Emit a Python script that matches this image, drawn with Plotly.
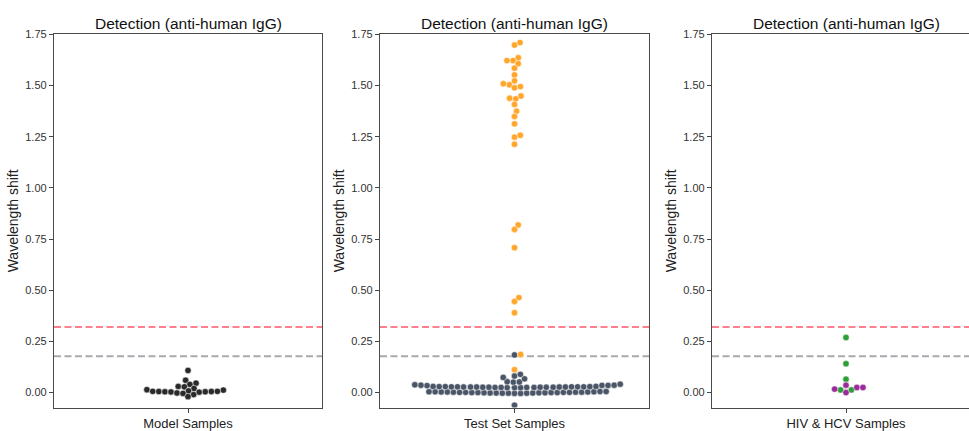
import numpy as np
import plotly.graph_objects as go

# ---------------- data ----------------
titles = ["Detection (anti-human IgG)"] * 3
categories = ["Model Samples", "Test Set Samples", "HIV & HCV Samples"]
y_ticks = [0.00, 0.25, 0.50, 0.75, 1.00, 1.25, 1.50, 1.75]
y_tick_labels = ["0.00", "0.25", "0.50", "0.75", "1.00", "1.25", "1.50", "1.75"]
threshold_red = 0.32
threshold_gray = 0.178

model_values = [0.108, 0.060, 0.046, 0.040, 0.030, 0.028, 0.020, 0.014, 0.012, 0.008,
                0.006, 0.006, 0.005, 0.005, 0.004, 0.004, 0.003, 0.002, -0.002, -0.004,
                -0.010, -0.020]

test_positive = [1.710, 1.698, 1.636, 1.622, 1.622, 1.607, 1.585, 1.552, 1.523, 1.504,
                 1.509, 1.489, 1.495, 1.449, 1.438, 1.435, 1.408, 1.375, 1.349, 1.313,
                 1.257, 1.248, 1.213, 0.819, 0.797, 0.708, 0.464, 0.445, 0.390, 0.186,
                 0.112]
test_negative = [-0.062, -0.004, -0.004, -0.003, -0.003, -0.003, -0.002, -0.002, -0.002,
                 -0.001, -0.001, -0.001, 0.000, 0.000, 0.000, 0.000, 0.001, 0.001, 0.001,
                 0.001, 0.002, 0.002, 0.002, 0.003, 0.003, 0.003, 0.004, 0.004, 0.004,
                 0.005, 0.005,
                 0.024, 0.024, 0.024, 0.025, 0.025, 0.025, 0.025, 0.026, 0.026, 0.026,
                 0.026, 0.026, 0.027, 0.027, 0.027, 0.027, 0.027, 0.028, 0.028, 0.028,
                 0.028, 0.028, 0.029, 0.029, 0.029, 0.030, 0.030,
                 0.034, 0.035, 0.035, 0.036, 0.036,
                 0.038, 0.041, 0.051, 0.052, 0.053, 0.067, 0.074, 0.081, 0.089, 0.184]

hiv_hcv_green = [0.269, 0.141, 0.065, 0.013, 0.013]
hiv_hcv_purple = [0.025, 0.017, 0.036, 0.000, 0.025]

# ---------------- styling / geometry ----------------
W, H = 969, 431
Y_RANGE = [-0.073, 1.751]
PLOT_TOP, PLOT_BOTTOM = 29, 413
PANEL_X = [(54, 322), (380, 649), (712, 980)]
PX_PER_UNIT_Y = (PLOT_BOTTOM - PLOT_TOP) / (Y_RANGE[1] - Y_RANGE[0])
PX_PER_CAT = 268.0
R = 2.9  # marker radius in px used for swarm layout
FONT = "Liberation Sans, Arial, sans-serif"


def beeswarm(values, r=R):
    """seaborn-like swarm: returns x offsets (category units) for values."""
    vals = np.asarray(values, dtype=float)
    ys = vals * PX_PER_UNIT_Y
    order = np.argsort(ys, kind="stable")
    placed = []  # (x, y)
    xs_sorted = []
    for idx in order:
        y_i = ys[idx]
        neighbors = []
        for (xj, yj) in reversed(placed):
            if (y_i - yj) < 2 * r:
                neighbors.append((xj, yj))
            else:
                break
        cands = [0.0]
        left_first = False
        for (xj, yj) in neighbors:
            dy = y_i - yj
            dx = np.sqrt(max((2 * r) ** 2 - dy ** 2, 0)) * 1.05
            pair = [xj - dx, xj + dx] if left_first else [xj + dx, xj - dx]
            cands.extend(pair)
            left_first = not left_first
        cands = sorted(cands, key=lambda c: abs(c))
        chosen = cands[0]
        if neighbors:
            for c in cands:
                ok = all((xj - c) ** 2 + (yj - y_i) ** 2 >= (2 * r) ** 2 - 1e-9
                         for (xj, yj) in neighbors)
                if ok:
                    chosen = c
                    break
        placed.append((chosen, y_i))
        xs_sorted.append((idx, chosen))
    out = np.zeros(len(vals))
    for idx, c in xs_sorted:
        out[idx] = c / PX_PER_CAT
    return out


fig = go.Figure()

panels = [
    [(model_values, "#2a2a2a")],
    [(test_negative, "#4a5568"), (test_positive, "#ffa62b")],
    [(hiv_hcv_green, "#2e9e36"), (hiv_hcv_purple, "#9b2a9b")],
]

for p, groups in enumerate(panels):
    all_vals = []
    labels = []
    for g, (vals, col) in enumerate(groups):
        all_vals += list(vals)
        labels += [g] * len(vals)
    offs = beeswarm(all_vals)
    labels = np.array(labels)
    all_vals = np.array(all_vals)
    ax = "" if p == 0 else str(p + 1)
    for g, (vals, col) in enumerate(groups):
        m = labels == g
        fig.add_trace(go.Scatter(
            x=offs[m], y=all_vals[m], mode="markers",
            marker=dict(size=6.4, color=col, line=dict(width=0.5, color="white")),
            xaxis="x" + ax, yaxis="y" + ax, showlegend=False, hoverinfo="y"))

    x0, x1 = PANEL_X[p]
    dom_x1 = min(x1, W)
    xr_hi = 0.5 - (x1 - dom_x1) / (x1 - x0)
    ydom = [(H - PLOT_BOTTOM) / H, (H - PLOT_TOP) / H]
    fig.layout["xaxis" + ax] = dict(
        domain=[x0 / W, dom_x1 / W], range=[-0.5, xr_hi], anchor="y" + ax,
        tickvals=[0], ticktext=[categories[p]], ticks="outside", ticklen=4,
        tickwidth=1, tickcolor="#444", showgrid=False, zeroline=False,
        showline=True, mirror=True, linecolor="#4a4a4a", linewidth=1.3,
        tickfont=dict(family=FONT, size=13, color="#222"), fixedrange=True)
    fig.layout["yaxis" + ax] = dict(
        domain=ydom, range=Y_RANGE, anchor="x" + ax,
        tickvals=y_ticks, ticktext=y_tick_labels, ticks="outside", ticklen=4,
        tickwidth=1, tickcolor="#444", showgrid=False, zeroline=False,
        showline=True, mirror=(p < 2), linecolor="#4a4a4a", linewidth=1.3,
        tickfont=dict(family=FONT, size=11, color="#333"),
        title=dict(text="Wavelength shift", font=dict(family=FONT, size=14, color="#222"),
                   standoff=3), fixedrange=True)

    xref = "x" + ax + " domain"
    yref = "y" + ax
    fig.add_shape(type="line", xref=xref, yref=yref, x0=0, x1=1,
                  y0=threshold_red, y1=threshold_red, layer="below",
                  line=dict(color="#ff7f8c", width=2, dash="7px,3.5px"))
    fig.add_shape(type="line", xref=xref, yref=yref, x0=0, x1=1,
                  y0=threshold_gray, y1=threshold_gray, layer="below",
                  line=dict(color="#aca8ae", width=2, dash="7px,3.5px"))

    cx = (x0 + x1) / 2 / W
    fig.add_annotation(text=titles[p], xref="paper", yref="paper", x=cx,
                       y=(H - 18) / H, showarrow=False, xanchor="center",
                       yanchor="middle",
                       font=dict(family=FONT, size=15.5, color="#111"))

fig.update_layout(width=W, height=H, margin=dict(l=0, r=0, t=0, b=0),
                  paper_bgcolor="white", plot_bgcolor="white")

fig.write_html("out.html", config={"displayModeBar": False},
               post_script="document.body.style.margin='0px';"
                           "document.body.style.overflow='hidden';")
